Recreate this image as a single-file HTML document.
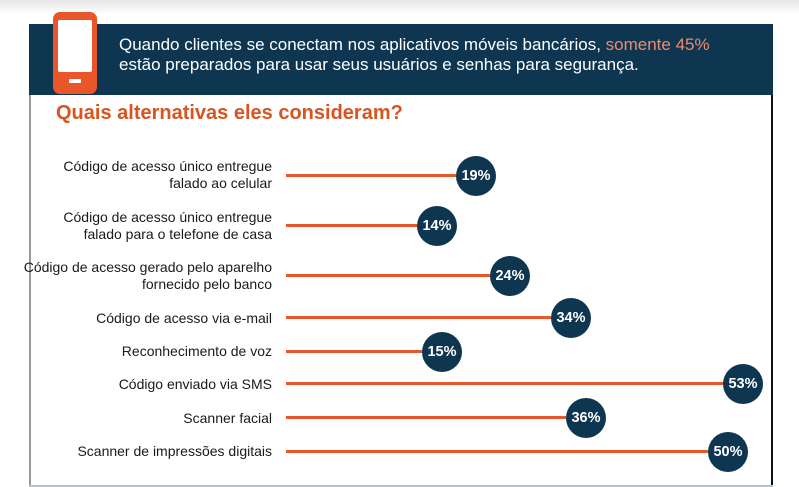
<!DOCTYPE html>
<html><head><meta charset="utf-8"><style>
body{margin:0;width:799px;height:487px;overflow:hidden;background:#fff;font-family:"Liberation Sans",sans-serif;position:relative}
.top{position:absolute;left:0;top:0;width:799px;height:14px;background:linear-gradient(#e6e6e6,#fff)}
.band{position:absolute;left:29px;top:24px;width:744px;height:71px;background:#0e3650}
.head{position:absolute;left:119px;top:35px;color:#fff;font-size:17px;line-height:20px}
.lb{position:absolute;left:29px;top:95px;width:2px;height:392px;background:#999}
.rb{position:absolute;left:771px;top:95px;width:2px;height:392px;background:#111}
.bb{position:absolute;left:29px;top:485px;width:744px;height:2px;background:#b8c0c8}
h2{position:absolute;left:56px;top:102px;margin:0;color:#d9541e;font-size:20px;font-weight:bold}
.l{position:absolute;right:527px;text-align:right;font-size:14px;line-height:17px;color:#1a1a1a;white-space:nowrap}
.bar{position:absolute;left:286px;height:3px;background:#e4582a}
.c{position:absolute;width:40px;height:40px;border-radius:50%;background:#0e3650;color:#fff;font-weight:bold;font-size:14.5px;line-height:40px;text-align:center}
</style></head><body>
<div class="top"></div>
<div class="band"></div>
<svg style="position:absolute;left:53px;top:12px" width="44" height="82"><rect x="0" y="0" width="44" height="82" rx="7" fill="#e8562a"/><rect x="5" y="8" width="34" height="52" rx="2" fill="#fff"/><rect x="16" y="67" width="12" height="4" rx="1" fill="#fff"/></svg>
<div class="head">Quando clientes se conectam nos aplicativos móveis bancários, <span style="color:#f08a6c">somente 45%</span><br>estão preparados para usar seus usuários e senhas para segurança.</div>
<div class="lb"></div><div class="rb"></div><div class="bb"></div>
<h2>Quais alternativas eles consideram?</h2>
<div class="l" style="top:158px">Código de acesso único entregue<br>falado ao celular</div>
<div class="l" style="top:209px">Código de acesso único entregue<br>falado para o telefone de casa</div>
<div class="l" style="top:259px">Código de acesso gerado pelo aparelho<br>fornecido pelo banco</div>
<div class="l" style="top:310px">Código de acesso via e-mail</div>
<div class="l" style="top:343px">Reconhecimento de voz</div>
<div class="l" style="top:376px">Código enviado via SMS</div>
<div class="l" style="top:410px">Scanner facial</div>
<div class="l" style="top:443px">Scanner de impressões digitais</div>
<div class="bar" style="top:174px;width:170px"></div><div class="c" style="left:456px;top:156px">19%</div>
<div class="bar" style="top:224px;width:131px"></div><div class="c" style="left:417px;top:206px">14%</div>
<div class="bar" style="top:274px;width:204px"></div><div class="c" style="left:490px;top:256px">24%</div>
<div class="bar" style="top:316px;width:265px"></div><div class="c" style="left:551px;top:298px">34%</div>
<div class="bar" style="top:350px;width:136px"></div><div class="c" style="left:422px;top:332px">15%</div>
<div class="bar" style="top:382px;width:437px"></div><div class="c" style="left:723px;top:364px">53%</div>
<div class="bar" style="top:416px;width:280px"></div><div class="c" style="left:566px;top:398px">36%</div>
<div class="bar" style="top:450px;width:422px"></div><div class="c" style="left:708px;top:432px">50%</div>
</body></html>
